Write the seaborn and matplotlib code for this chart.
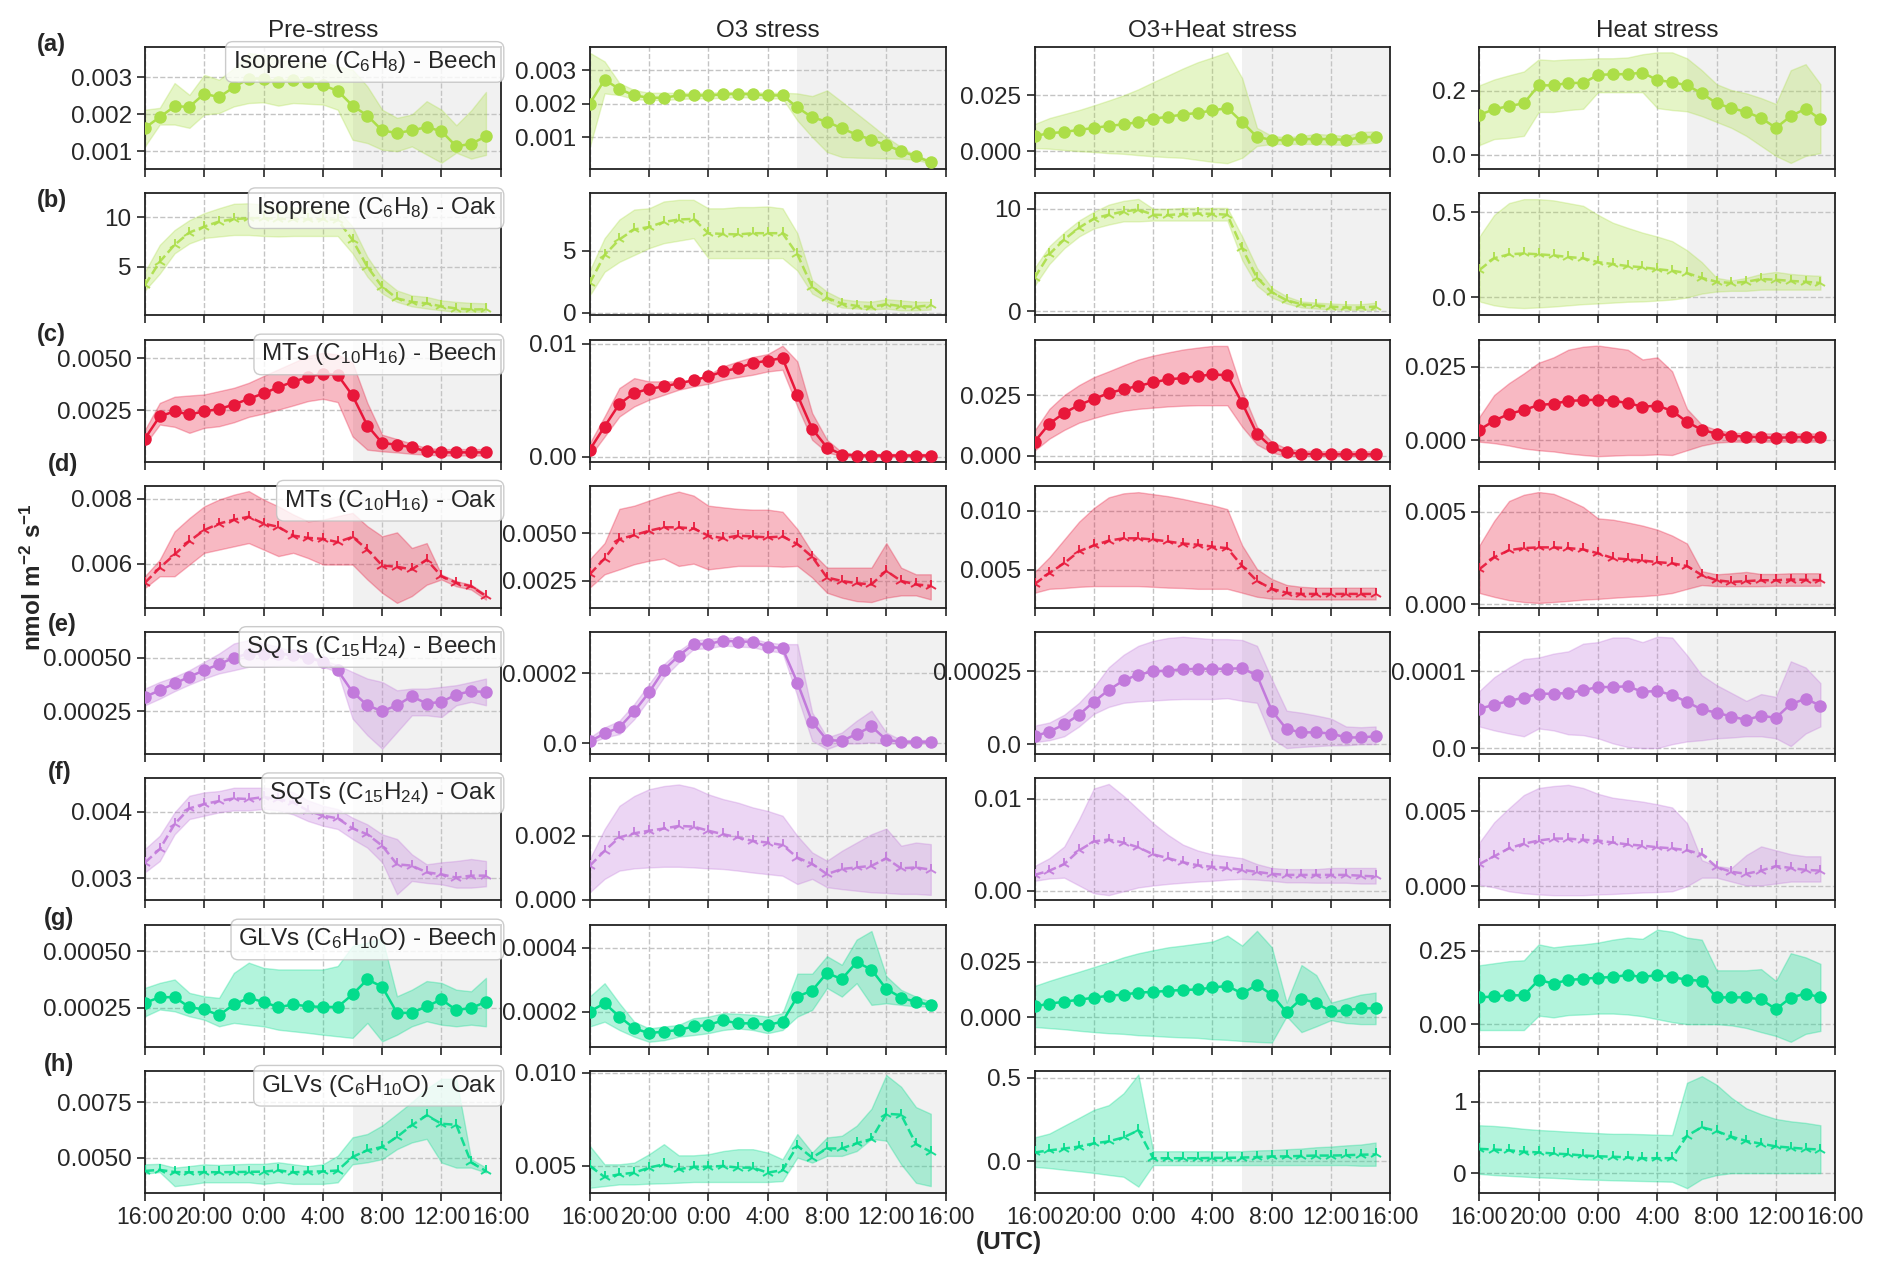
import numpy as np
import pandas as pd
import matplotlib.pyplot as plt
import seaborn as sns

# hours after 16:00 (hourly means, 16:00 -> 15:00)
hours = list(range(24))
xtick_pos = [0, 4, 8, 12, 16, 20, 24]
xtick_labels = ['16:00', '20:00', '0:00', '4:00', '8:00', '12:00', '16:00']
col_titles = ['Pre-stress', 'O3 stress', 'O3+Heat stress', 'Heat stress']
row_letters = ['(a)', '(b)', '(c)', '(d)', '(e)', '(f)', '(g)', '(h)']
row_names = ['Isoprene (C$_6$H$_8$) - Beech', 'Isoprene (C$_6$H$_8$) - Oak',
             'MTs (C$_{10}$H$_{16}$) - Beech', 'MTs (C$_{10}$H$_{16}$) - Oak',
             'SQTs (C$_{15}$H$_{24}$) - Beech', 'SQTs (C$_{15}$H$_{24}$) - Oak',
             'GLVs (C$_6$H$_{10}$O) - Beech', 'GLVs (C$_6$H$_{10}$O) - Oak']

# ---- (a) isoprene beech
a1_mean = [0.00163, 0.00192, 0.00221, 0.0022, 0.00255, 0.00246, 0.00273, 0.00296, 0.00296, 0.00287, 0.00292, 0.00288, 0.00278, 0.00263, 0.00223, 0.00196, 0.00156, 0.00149, 0.00156, 0.00165, 0.00154, 0.00113, 0.0012, 0.0014]
a1_hi = [0.00212, 0.00217, 0.00284, 0.00252, 0.00306, 0.00293, 0.00324, 0.00365, 0.0036, 0.00347, 0.00342, 0.00338, 0.00342, 0.00329, 0.0032, 0.00275, 0.00212, 0.0019, 0.00199, 0.00235, 0.00212, 0.0017, 0.0021, 0.0026]
a1_lo = [0.00113, 0.00172, 0.00172, 0.00163, 0.00199, 0.00203, 0.00221, 0.0023, 0.00232, 0.00223, 0.0023, 0.00228, 0.00226, 0.00212, 0.00131, 0.00122, 0.00104, 0.001, 0.00113, 0.00091, 0.00069, 0.00096, 0.0008, 0.0009]
a2_mean = [0.002, 0.00272, 0.00244, 0.00225, 0.00218, 0.00218, 0.00225, 0.00225, 0.00225, 0.00228, 0.0023, 0.00228, 0.00225, 0.00225, 0.00189, 0.00159, 0.00146, 0.00126, 0.00107, 0.00092, 0.00075, 0.00058, 0.00042, 0.00024]
a2_hi = [0.00353, 0.00327, 0.00262, 0.00241, 0.00233, 0.00233, 0.00233, 0.00233, 0.00233, 0.00235, 0.00236, 0.00235, 0.00233, 0.00233, 0.00231, 0.00223, 0.0024, 0.00206, 0.00171, 0.00136, 0.001, 0.0007, 0.00045, 0.0003]
a2_lo = [0.0007, 0.00231, 0.00226, 0.00214, 0.00211, 0.00211, 0.00214, 0.00216, 0.00216, 0.00218, 0.0022, 0.00218, 0.00216, 0.00216, 0.0015, 0.001, 0.00055, 0.0004, 0.00038, 0.00037, 0.00036, 0.00035, 0.00032, 0.0002]
a3_mean = [0.0068, 0.008, 0.0086, 0.0095, 0.0104, 0.0113, 0.012, 0.013, 0.0145, 0.0154, 0.0164, 0.0171, 0.0182, 0.0193, 0.013, 0.0064, 0.005, 0.005, 0.0054, 0.0054, 0.0054, 0.005, 0.0062, 0.0064]
a3_hi = [0.0121, 0.0148, 0.0166, 0.0184, 0.0205, 0.0227, 0.025, 0.0277, 0.0309, 0.0339, 0.037, 0.0398, 0.042, 0.0443, 0.0327, 0.0104, 0.0068, 0.0062, 0.0068, 0.0077, 0.0073, 0.0068, 0.0086, 0.0089]
a3_lo = [0.0014, 0.0011, 0.0005, 0.0, -0.0004, -0.0009, -0.0012, -0.0018, -0.0023, -0.0027, -0.003, -0.0039, -0.0048, -0.0054, -0.003, 0.0023, 0.0032, 0.0032, 0.0032, 0.0032, 0.0029, 0.0029, 0.0032, 0.0038]
a4_mean = [0.125, 0.1425, 0.1525, 0.161, 0.2175, 0.2175, 0.225, 0.225, 0.25, 0.2525, 0.2525, 0.2575, 0.234, 0.2275, 0.2175, 0.1925, 0.161, 0.146, 0.134, 0.115, 0.084, 0.121, 0.144, 0.111]
a4_hi = [0.2175, 0.236, 0.249, 0.261, 0.299, 0.296, 0.299, 0.30, 0.3025, 0.3025, 0.305, 0.315, 0.321, 0.321, 0.3025, 0.265, 0.221, 0.2025, 0.1925, 0.1775, 0.159, 0.265, 0.284, 0.221]
a4_lo = [0.03, 0.049, 0.0525, 0.059, 0.134, 0.134, 0.14, 0.144, 0.196, 0.196, 0.196, 0.196, 0.146, 0.14, 0.136, 0.121, 0.1025, 0.084, 0.059, 0.0275, -0.004, -0.026, -0.004, 0.005]

# ---- (b) isoprene oak
b1_mean = [3.14, 5.5, 7.2, 8.45, 9.05, 9.56, 9.8, 9.9, 9.9, 9.83, 9.8, 9.8, 9.8, 9.73, 7.7, 5.0, 2.97, 1.8, 1.45, 1.3, 1.0, 0.78, 0.68, 0.7]
b1_hi = [4.5, 7.2, 8.7, 9.7, 10.4, 10.9, 11.35, 11.4, 11.25, 11.15, 11.0, 10.9, 10.8, 10.75, 9.05, 6.0, 3.8, 2.6, 2.1, 1.95, 1.6, 1.45, 1.35, 1.3]
b1_lo = [2.6, 4.3, 6.35, 7.35, 7.9, 8.05, 8.2, 8.2, 8.1, 8.05, 8.1, 8.1, 8.1, 8.1, 6.35, 4.0, 2.3, 1.45, 1.0, 0.78, 0.6, 0.45, 0.45, 0.45]
b2_mean = [2.4, 4.65, 5.9, 6.7, 6.9, 7.3, 7.5, 7.55, 6.4, 6.34, 6.3, 6.4, 6.4, 6.4, 4.7, 2.1, 1.2, 0.75, 0.56, 0.48, 0.7, 0.54, 0.48, 0.62]
b2_hi = [3.4, 6.0, 7.5, 8.3, 8.4, 8.95, 9.08, 9.08, 8.4, 8.4, 8.5, 8.5, 8.55, 8.4, 6.4, 2.63, 1.7, 1.1, 0.95, 0.9, 1.1, 1.0, 0.9, 0.9]
b2_lo = [1.4, 3.3, 4.1, 4.65, 5.2, 5.6, 5.8, 6.0, 4.4, 4.4, 4.4, 4.4, 4.4, 4.4, 3.4, 1.55, 0.9, 0.43, 0.35, 0.27, 0.35, 0.2, 0.2, 0.27]
b3_mean = [3.27, 5.58, 7.0, 8.15, 9.04, 9.42, 9.73, 9.92, 9.42, 9.38, 9.5, 9.54, 9.5, 9.42, 6.15, 3.27, 1.85, 1.08, 0.69, 0.58, 0.46, 0.38, 0.38, 0.46]
b3_hi = [4.23, 6.35, 7.7, 8.85, 9.7, 10.4, 10.77, 10.96, 10.0, 10.0, 10.08, 10.08, 10.08, 10.08, 7.3, 4.23, 2.3, 1.46, 0.96, 0.85, 0.77, 0.69, 0.69, 0.85]
b3_lo = [2.5, 4.62, 6.15, 7.3, 8.08, 8.46, 8.77, 8.77, 8.85, 8.85, 8.85, 8.85, 8.85, 8.85, 5.0, 2.5, 1.35, 0.77, 0.38, 0.27, 0.19, 0.15, 0.15, 0.15]
b4_mean = [0.161, 0.23, 0.253, 0.258, 0.253, 0.247, 0.237, 0.23, 0.207, 0.196, 0.184, 0.177, 0.166, 0.157, 0.143, 0.115, 0.092, 0.085, 0.092, 0.108, 0.104, 0.097, 0.092, 0.085]
b4_hi = [0.357, 0.484, 0.553, 0.576, 0.576, 0.569, 0.553, 0.537, 0.484, 0.438, 0.408, 0.38, 0.357, 0.33, 0.277, 0.207, 0.115, 0.1, 0.115, 0.138, 0.15, 0.138, 0.131, 0.127]
b4_lo = [-0.023, -0.046, -0.058, -0.062, -0.058, -0.053, -0.046, -0.039, -0.035, -0.03, -0.025, -0.023, -0.018, -0.012, 0.0, 0.023, 0.035, 0.039, 0.039, 0.046, 0.046, 0.046, 0.046, 0.046]

# ---- (c) MTs beech
c1_mean = [0.00113, 0.00221, 0.00244, 0.0023, 0.00244, 0.00256, 0.00277, 0.00305, 0.00331, 0.00361, 0.00387, 0.0041, 0.00426, 0.0042, 0.00321, 0.00176, 0.00092, 0.00084, 0.00071, 0.00052, 0.00047, 0.00047, 0.00047, 0.00047]
c1_hi = [0.00156, 0.00285, 0.00315, 0.00321, 0.00326, 0.00342, 0.00358, 0.00382, 0.00415, 0.00447, 0.00479, 0.00511, 0.00527, 0.00519, 0.00479, 0.00285, 0.00132, 0.00111, 0.00089, 0.00068, 0.00063, 0.00063, 0.00063, 0.00063]
c1_lo = [0.00084, 0.00181, 0.0017, 0.00141, 0.00165, 0.00173, 0.00192, 0.00218, 0.00234, 0.00253, 0.00273, 0.00294, 0.00305, 0.00289, 0.00124, 0.0006, 0.00052, 0.00047, 0.0004, 0.00036, 0.00032, 0.00032, 0.00032, 0.00032]
c2_mean = [0.00059, 0.00266, 0.00467, 0.00562, 0.006, 0.00621, 0.00649, 0.00675, 0.0071, 0.00754, 0.00784, 0.00828, 0.00849, 0.00873, 0.00547, 0.00246, 0.0008, 0.00018, 0.00009, 0.00009, 0.00009, 0.00009, 0.00009, 0.00009]
c2_hi = [0.00118, 0.00355, 0.00607, 0.00695, 0.00666, 0.00666, 0.00666, 0.0068, 0.00725, 0.00799, 0.00843, 0.00882, 0.00908, 0.00982, 0.00843, 0.00385, 0.00148, 0.00038, 0.00024, 0.00024, 0.00024, 0.00024, 0.00024, 0.00024]
c2_lo = [0.0, 0.00177, 0.00355, 0.00444, 0.00503, 0.00547, 0.00592, 0.00621, 0.00645, 0.0068, 0.00704, 0.00725, 0.00754, 0.00769, 0.00444, 0.00148, 0.00036, 0.00006, 0.0, 0.0, 0.0, 0.0, 0.0, 0.0]
c3_mean = [0.0057, 0.0132, 0.0176, 0.0209, 0.0234, 0.0258, 0.0274, 0.0288, 0.0302, 0.0315, 0.032, 0.0328, 0.0335, 0.0332, 0.0217, 0.009, 0.0034, 0.0013, 0.0008, 0.0005, 0.0005, 0.0005, 0.0005, 0.0005]
c3_hi = [0.0103, 0.0193, 0.025, 0.0291, 0.0324, 0.0348, 0.0373, 0.0397, 0.0413, 0.0426, 0.0438, 0.0446, 0.0453, 0.0453, 0.0266, 0.0119, 0.0057, 0.0029, 0.0021, 0.0018, 0.0018, 0.0018, 0.0018, 0.0018]
c3_lo = [0.0021, 0.007, 0.0106, 0.0136, 0.0155, 0.0172, 0.0185, 0.0193, 0.0198, 0.0203, 0.0206, 0.0208, 0.0208, 0.0208, 0.0119, 0.0046, 0.0013, -0.0003, -0.0003, -0.0003, -0.0003, -0.0003, -0.0003, -0.0003]
c4_mean = [0.0036, 0.0067, 0.009, 0.0103, 0.012, 0.0124, 0.0134, 0.0136, 0.0138, 0.0134, 0.0127, 0.0114, 0.0118, 0.01, 0.0063, 0.0036, 0.0023, 0.0016, 0.0013, 0.0011, 0.0009, 0.0011, 0.0012, 0.0011]
c4_hi = [0.008, 0.0154, 0.0194, 0.0227, 0.0263, 0.0281, 0.0307, 0.0317, 0.0321, 0.0314, 0.0307, 0.0274, 0.0281, 0.0234, 0.0107, 0.0053, 0.0036, 0.0027, 0.0024, 0.0024, 0.0024, 0.0024, 0.0024, 0.0024]
c4_lo = [-0.0004, -0.0009, -0.0017, -0.0027, -0.0033, -0.0037, -0.0044, -0.0049, -0.0053, -0.0051, -0.0049, -0.0049, -0.0047, -0.0049, -0.0033, -0.0017, -0.0007, -0.0004, -0.0004, -0.0004, -0.0004, -0.0004, -0.0004, -0.0004]

# ---- (d) MTs oak
d1_mean = [0.00542, 0.00588, 0.00629, 0.0067, 0.00704, 0.00724, 0.00736, 0.00745, 0.00724, 0.00714, 0.00687, 0.0068, 0.00677, 0.00667, 0.00683, 0.00644, 0.00595, 0.00591, 0.00583, 0.00613, 0.00562, 0.00542, 0.00531, 0.00501]
d1_hi = [0.00562, 0.00613, 0.007, 0.00741, 0.00777, 0.00798, 0.00813, 0.00824, 0.00798, 0.00777, 0.00752, 0.00731, 0.00736, 0.00747, 0.00757, 0.00716, 0.00685, 0.00697, 0.00649, 0.00664, 0.00567, 0.00547, 0.00536, 0.00506]
d1_lo = [0.00526, 0.00562, 0.00562, 0.00598, 0.00634, 0.00644, 0.00654, 0.00664, 0.00644, 0.00624, 0.00634, 0.00618, 0.00598, 0.00598, 0.00598, 0.00552, 0.00511, 0.0048, 0.00501, 0.00536, 0.00552, 0.00531, 0.00521, 0.0049]
d2_mean = [0.00285, 0.00368, 0.0047, 0.00491, 0.00514, 0.00532, 0.00532, 0.00526, 0.00488, 0.00475, 0.00488, 0.00484, 0.00479, 0.00484, 0.00444, 0.00377, 0.00268, 0.0025, 0.00238, 0.00232, 0.00303, 0.0025, 0.00232, 0.00224]
d2_hi = [0.00364, 0.00449, 0.00629, 0.00646, 0.00673, 0.00699, 0.0072, 0.00699, 0.00646, 0.00637, 0.00629, 0.00625, 0.00625, 0.00614, 0.00523, 0.00399, 0.0032, 0.0032, 0.0032, 0.0032, 0.00449, 0.0032, 0.00285, 0.00285]
d2_lo = [0.00215, 0.00285, 0.00311, 0.00338, 0.00356, 0.00368, 0.00329, 0.00341, 0.00311, 0.0032, 0.00329, 0.00329, 0.00329, 0.00325, 0.00329, 0.00268, 0.00188, 0.00162, 0.00144, 0.00139, 0.00162, 0.00174, 0.00174, 0.00153]
d3_mean = [0.0038, 0.00473, 0.00557, 0.00657, 0.00707, 0.00747, 0.00767, 0.00767, 0.00757, 0.0074, 0.00723, 0.00713, 0.00697, 0.00683, 0.00533, 0.00407, 0.0034, 0.00307, 0.00297, 0.00297, 0.00297, 0.00297, 0.00297, 0.00297]
d3_hi = [0.0048, 0.00607, 0.00757, 0.00907, 0.01023, 0.01113, 0.01147, 0.01157, 0.0114, 0.01123, 0.011, 0.01073, 0.01047, 0.01013, 0.00707, 0.00507, 0.00423, 0.00373, 0.00357, 0.0035, 0.0035, 0.0035, 0.0035, 0.0035]
d3_lo = [0.00307, 0.0034, 0.00347, 0.00357, 0.00363, 0.00363, 0.00363, 0.00363, 0.00357, 0.0035, 0.00347, 0.0034, 0.0034, 0.0034, 0.00307, 0.00273, 0.00257, 0.00257, 0.0025, 0.0025, 0.0025, 0.0025, 0.0025, 0.0025]
d4_mean = [0.00189, 0.00253, 0.00292, 0.00303, 0.00307, 0.00307, 0.00303, 0.00296, 0.00275, 0.00249, 0.00242, 0.00236, 0.00227, 0.00221, 0.00206, 0.00157, 0.00129, 0.0012, 0.00124, 0.00129, 0.00129, 0.00133, 0.00131, 0.00129]
d4_hi = [0.00318, 0.00451, 0.00558, 0.00592, 0.00607, 0.00597, 0.00564, 0.00526, 0.00464, 0.00457, 0.00442, 0.00425, 0.00403, 0.00371, 0.00328, 0.00178, 0.00161, 0.00167, 0.00174, 0.00163, 0.00163, 0.00167, 0.00167, 0.00167]
d4_lo = [0.0006, 0.00039, 0.00021, 0.00011, 0.00006, 0.00011, 0.00017, 0.00024, 0.00028, 0.00034, 0.00039, 0.00043, 0.00049, 0.0006, 0.00082, 0.00103, 0.00097, 0.00097, 0.00097, 0.00097, 0.00099, 0.00099, 0.00099, 0.00099]

# ---- (e) SQTs beech
e1_mean = [0.000317, 0.000348, 0.00038, 0.000411, 0.000442, 0.00047, 0.0005, 0.00052, 0.00052, 0.00052, 0.000512, 0.0005, 0.000481, 0.000442, 0.00034, 0.000278, 0.00025, 0.000278, 0.00032, 0.000286, 0.000294, 0.000328, 0.000344, 0.00034]
e1_hi = [0.000356, 0.000387, 0.000411, 0.000442, 0.000481, 0.00052, 0.000567, 0.000583, 0.000567, 0.000552, 0.000528, 0.000505, 0.00049, 0.000466, 0.000434, 0.000403, 0.000387, 0.000348, 0.000356, 0.000356, 0.000364, 0.000372, 0.000387, 0.000403]
e1_lo = [0.000278, 0.000309, 0.000344, 0.000375, 0.000403, 0.000427, 0.000442, 0.000458, 0.000458, 0.000463, 0.000463, 0.000458, 0.000458, 0.000434, 0.000216, 0.000138, 0.000075, 0.000153, 0.000231, 0.000231, 0.000223, 0.000278, 0.000294, 0.000278]
e2_mean = [0.0000057, 0.0000284, 0.0000455, 0.000091, 0.000145, 0.000209, 0.000249, 0.000282, 0.000282, 0.000292, 0.000289, 0.000289, 0.000275, 0.00027, 0.000173, 0.0000616, 0.0000095, 0.0000076, 0.0000265, 0.0000483, 0.0000104, 0.0000047, 0.0000047, 0.0000047]
e2_hi = [0.000017, 0.0000455, 0.0000645, 0.000112, 0.000169, 0.000225, 0.000263, 0.000292, 0.000297, 0.000301, 0.000299, 0.000297, 0.000287, 0.000282, 0.000282, 0.000088, 0.000017, 0.000031, 0.0000645, 0.000093, 0.000031, 0.00001, 0.00001, 0.00001]
e2_lo = [0.0, 0.000017, 0.0000265, 0.000069, 0.000126, 0.000188, 0.00023, 0.000268, 0.00027, 0.000278, 0.000275, 0.000273, 0.000263, 0.000258, 0.000135, 0.0000076, -0.000016, 0.0, 0.0, 0.0000028, 0.0, 0.0, 0.0, 0.0]
e3_mean = [0.000027, 0.0000432, 0.0000676, 0.000101, 0.000146, 0.000186, 0.000219, 0.000239, 0.00025, 0.000253, 0.000257, 0.000259, 0.000259, 0.000259, 0.000261, 0.000236, 0.000115, 0.0000514, 0.0000405, 0.0000405, 0.0000365, 0.000023, 0.000023, 0.000027]
e3_hi = [0.0000635, 0.0000743, 0.000101, 0.000142, 0.000196, 0.000264, 0.000307, 0.000338, 0.000355, 0.000365, 0.000369, 0.000365, 0.000361, 0.000361, 0.000358, 0.000338, 0.000223, 0.000115, 0.000108, 0.0000986, 0.0000878, 0.0000608, 0.0000581, 0.0000608]
e3_lo = [0.0000068, 0.0000135, 0.000027, 0.0000608, 0.000104, 0.000128, 0.000142, 0.000147, 0.00015, 0.000153, 0.000155, 0.000155, 0.000155, 0.000158, 0.000149, 0.000142, 0.00002, -0.0000135, -0.0000095, -0.0000068, -0.000004, -0.000004, 0.0, 0.0]
e4_mean = [0.0000513, 0.0000564, 0.0000615, 0.0000656, 0.0000708, 0.0000708, 0.0000718, 0.0000754, 0.0000795, 0.0000795, 0.0000805, 0.0000733, 0.0000744, 0.0000692, 0.00006, 0.0000503, 0.0000462, 0.000041, 0.0000369, 0.0000421, 0.0000395, 0.0000574, 0.0000641, 0.0000554]
e4_hi = [0.0000744, 0.0000923, 0.000105, 0.000116, 0.000118, 0.000123, 0.000126, 0.000136, 0.000138, 0.000144, 0.000144, 0.000138, 0.000145, 0.000144, 0.000121, 0.0000949, 0.000082, 0.0000718, 0.0000615, 0.0000703, 0.0000667, 0.000113, 0.000105, 0.0000846]
e4_lo = [0.0000282, 0.0000231, 0.000019, 0.0000154, 0.0000256, 0.0000231, 0.0000179, 0.0000169, 0.0000128, 0.0000062, 0.0000015, 0.0, 0.0, 0.0000051, 0.0000087, 0.0000103, 0.0000128, 0.0000138, 0.0000154, 0.0000154, 0.0000128, 0.0000026, 0.000019, 0.0000282]

# ---- (f) SQTs oak
f1_mean = [0.003236, 0.003437, 0.003814, 0.00405, 0.004116, 0.00416, 0.0042, 0.00419, 0.00422, 0.00419, 0.00414, 0.004015, 0.00394, 0.0039, 0.00375, 0.00366, 0.00349, 0.00321, 0.00319, 0.00309, 0.00306, 0.00301, 0.00304, 0.00304]
f1_hi = [0.00344, 0.00364, 0.00399, 0.00424, 0.00429, 0.00431, 0.00436, 0.00436, 0.00436, 0.00434, 0.00429, 0.00417, 0.00409, 0.00404, 0.00391, 0.00381, 0.00366, 0.00359, 0.00336, 0.00321, 0.00324, 0.00326, 0.00329, 0.00326]
f1_lo = [0.00309, 0.00326, 0.00366, 0.00389, 0.00394, 0.00399, 0.00402, 0.00402, 0.00404, 0.00402, 0.00396, 0.00386, 0.00379, 0.00374, 0.00359, 0.00346, 0.00324, 0.00276, 0.00296, 0.00293, 0.00291, 0.00286, 0.00286, 0.00288]
f2_mean = [0.00106, 0.00153, 0.00195, 0.00208, 0.00216, 0.00223, 0.00231, 0.00229, 0.00216, 0.00205, 0.00195, 0.00184, 0.00179, 0.00171, 0.00132, 0.00112, 0.0008, 0.00096, 0.00101, 0.00106, 0.00129, 0.00098, 0.00101, 0.00094]
f2_hi = [0.00127, 0.00221, 0.00294, 0.00325, 0.00346, 0.00356, 0.00361, 0.00351, 0.0033, 0.00315, 0.00304, 0.00289, 0.00278, 0.00263, 0.002, 0.00148, 0.00122, 0.00153, 0.00179, 0.00205, 0.00223, 0.00169, 0.00179, 0.00174]
f2_lo = [0.00023, 0.00065, 0.00091, 0.00098, 0.00101, 0.00103, 0.00103, 0.00101, 0.00098, 0.00096, 0.00091, 0.00085, 0.0008, 0.00075, 0.00049, 0.00065, 0.00039, 0.00033, 0.00028, 0.00023, 0.00021, 0.00018, 0.00018, 0.00015]
f3_mean = [0.0017, 0.00216, 0.00288, 0.00436, 0.00534, 0.00555, 0.00521, 0.0047, 0.00394, 0.00352, 0.00309, 0.00275, 0.00258, 0.00246, 0.00225, 0.00203, 0.00182, 0.0017, 0.0017, 0.0017, 0.0017, 0.0017, 0.00161, 0.00153]
f3_hi = [0.00267, 0.00352, 0.00479, 0.00775, 0.0111, 0.0116, 0.0103, 0.00881, 0.00733, 0.00606, 0.005, 0.00436, 0.00394, 0.00373, 0.00352, 0.00288, 0.00246, 0.00233, 0.00233, 0.00233, 0.00246, 0.00246, 0.00246, 0.00246]
f3_lo = [0.00106, 0.00131, 0.0014, 0.00055, -0.0003, -0.0005, -0.00008, 0.00034, 0.00055, 0.00072, 0.00085, 0.00097, 0.00106, 0.00119, 0.00127, 0.00119, 0.00106, 0.00089, 0.00089, 0.00085, 0.00085, 0.00085, 0.00076, 0.00076]
f4_mean = [0.00148, 0.002, 0.00253, 0.00284, 0.00305, 0.00318, 0.00318, 0.0031, 0.00305, 0.00292, 0.00279, 0.00271, 0.0026, 0.00253, 0.0024, 0.00214, 0.00128, 0.00096, 0.00083, 0.00104, 0.00135, 0.00122, 0.00109, 0.00104]
f4_hi = [0.00292, 0.00427, 0.00521, 0.00609, 0.00656, 0.00669, 0.00677, 0.00656, 0.00617, 0.00591, 0.00578, 0.00565, 0.00547, 0.00526, 0.00422, 0.00174, 0.00135, 0.00122, 0.00208, 0.00266, 0.0024, 0.00214, 0.002, 0.002]
f4_lo = [0.0001, -0.00008, -0.00034, -0.00047, -0.00055, -0.0006, -0.0006, -0.0006, -0.00055, -0.00052, -0.00047, -0.00042, -0.00039, -0.00034, 0.0, 0.00057, 0.00057, 0.00031, 0.00005, 0.00005, 0.00018, 0.00031, 0.00031, 0.00031]

# ---- (g) GLVs beech
g1_mean = [0.000272, 0.000297, 0.000297, 0.000253, 0.000243, 0.000218, 0.000265, 0.000294, 0.000276, 0.000253, 0.000265, 0.000257, 0.000254, 0.000254, 0.000309, 0.000375, 0.000343, 0.000228, 0.000228, 0.000257, 0.000287, 0.00024, 0.00025, 0.000276]
g1_hi = [0.000338, 0.00036, 0.000375, 0.000316, 0.000301, 0.000294, 0.000404, 0.000449, 0.000426, 0.000419, 0.000419, 0.000419, 0.000419, 0.000434, 0.000522, 0.000537, 0.000559, 0.000301, 0.00033, 0.000368, 0.00036, 0.00033, 0.000323, 0.000382]
g1_lo = [0.000213, 0.000243, 0.000235, 0.000213, 0.000198, 0.000169, 0.000184, 0.000176, 0.000169, 0.000154, 0.000147, 0.00014, 0.000132, 0.000125, 0.000118, 0.000184, 0.000103, 0.000132, 0.000169, 0.000191, 0.000176, 0.000169, 0.000176, 0.000169]
g2_mean = [0.0002, 0.000226, 0.000184, 0.000147, 0.000132, 0.000137, 0.000142, 0.000153, 0.000158, 0.000172, 0.000163, 0.000163, 0.000158, 0.000168, 0.000247, 0.000266, 0.000321, 0.000302, 0.000355, 0.000332, 0.000271, 0.000244, 0.00023, 0.000221]
g2_hi = [0.000247, 0.000289, 0.000226, 0.000168, 0.000147, 0.000153, 0.000158, 0.000179, 0.000184, 0.000195, 0.000193, 0.00019, 0.000184, 0.000195, 0.000319, 0.000319, 0.000374, 0.000347, 0.000426, 0.000453, 0.000311, 0.000268, 0.000247, 0.000231]
g2_lo = [0.000153, 0.000168, 0.000142, 0.000121, 0.000105, 0.00011, 0.000121, 0.000126, 0.000132, 0.000142, 0.000147, 0.000142, 0.000132, 0.000142, 0.000184, 0.000205, 0.000274, 0.000247, 0.000289, 0.000221, 0.000226, 0.000221, 0.000216, 0.000216]
g3_mean = [0.005, 0.0062, 0.0071, 0.008, 0.0089, 0.0098, 0.0103, 0.0112, 0.0115, 0.012, 0.0124, 0.0126, 0.0135, 0.0142, 0.0108, 0.0147, 0.0103, 0.0023, 0.0085, 0.0064, 0.0027, 0.0032, 0.0041, 0.0041]
g3_hi = [0.0142, 0.0165, 0.0186, 0.0206, 0.0227, 0.0248, 0.0271, 0.0289, 0.0303, 0.0316, 0.0324, 0.0333, 0.0342, 0.0369, 0.0324, 0.039, 0.0316, 0.0067, 0.0236, 0.0191, 0.0067, 0.0085, 0.0103, 0.0112]
g3_lo = [-0.0043, -0.0048, -0.0053, -0.006, -0.0066, -0.0071, -0.0074, -0.008, -0.0083, -0.0087, -0.009, -0.0092, -0.0098, -0.0101, -0.0106, -0.011, -0.0113, 0.0005, -0.0066, -0.004, -0.0012, -0.0025, -0.003, -0.003]
g4_mean = [0.091, 0.094, 0.098, 0.098, 0.15, 0.138, 0.15, 0.154, 0.158, 0.16, 0.167, 0.16, 0.167, 0.16, 0.151, 0.147, 0.091, 0.091, 0.091, 0.084, 0.051, 0.09, 0.104, 0.091]
g4_hi = [0.2, 0.207, 0.214, 0.217, 0.271, 0.261, 0.267, 0.271, 0.277, 0.287, 0.294, 0.29, 0.321, 0.314, 0.294, 0.287, 0.183, 0.183, 0.183, 0.187, 0.147, 0.241, 0.227, 0.205]
g4_lo = [-0.02, -0.02, -0.02, -0.02, 0.029, 0.023, 0.031, 0.033, 0.036, 0.036, 0.033, 0.027, 0.017, 0.007, 0.0, 0.0, 0.0, -0.004, -0.013, -0.027, -0.04, -0.06, -0.033, -0.023]

# ---- (h) GLVs oak
h1_mean = [0.00441, 0.00446, 0.00436, 0.00435, 0.00436, 0.00435, 0.00436, 0.00437, 0.00438, 0.00444, 0.00435, 0.00438, 0.00439, 0.00443, 0.00504, 0.00534, 0.00549, 0.00594, 0.00646, 0.0069, 0.00653, 0.00648, 0.00479, 0.00441]
h1_hi = [0.00471, 0.00473, 0.00456, 0.00463, 0.00471, 0.00468, 0.00471, 0.00473, 0.00473, 0.0048, 0.00471, 0.00463, 0.00471, 0.00509, 0.00592, 0.00607, 0.00645, 0.00697, 0.0075, 0.0081, 0.00855, 0.00855, 0.00494, 0.00456]
h1_lo = [0.00429, 0.00436, 0.00373, 0.0038, 0.0039, 0.0039, 0.0039, 0.0039, 0.00383, 0.0039, 0.00383, 0.00383, 0.00383, 0.0039, 0.00471, 0.0048, 0.00494, 0.00539, 0.00569, 0.00585, 0.00479, 0.00456, 0.00456, 0.00434]
h2_mean = [0.005, 0.00441, 0.00455, 0.00464, 0.00491, 0.00509, 0.00482, 0.00496, 0.00496, 0.005, 0.00491, 0.00491, 0.00464, 0.00478, 0.00608, 0.00545, 0.00594, 0.00594, 0.00622, 0.00645, 0.0078, 0.00775, 0.00618, 0.00576]
h2_hi = [0.00608, 0.00509, 0.00509, 0.00518, 0.00563, 0.00617, 0.00557, 0.00557, 0.00563, 0.0058, 0.0059, 0.0059, 0.00572, 0.00536, 0.00671, 0.00572, 0.00653, 0.00662, 0.00716, 0.00807, 0.00988, 0.00925, 0.00816, 0.0078]
h2_lo = [0.00383, 0.00392, 0.00401, 0.00401, 0.00405, 0.00407, 0.0041, 0.00414, 0.00414, 0.00414, 0.00414, 0.00414, 0.00414, 0.00419, 0.00545, 0.00518, 0.00554, 0.00554, 0.0058, 0.00645, 0.00636, 0.00509, 0.0041, 0.00392]
h3_mean = [0.052, 0.064, 0.075, 0.087, 0.106, 0.118, 0.142, 0.184, 0.017, 0.017, 0.017, 0.017, 0.019, 0.019, 0.021, 0.024, 0.028, 0.028, 0.031, 0.033, 0.033, 0.035, 0.038, 0.04]
h3_hi = [0.142, 0.165, 0.212, 0.259, 0.307, 0.335, 0.406, 0.519, 0.059, 0.059, 0.059, 0.059, 0.059, 0.059, 0.059, 0.064, 0.066, 0.071, 0.075, 0.083, 0.087, 0.094, 0.099, 0.111]
h3_lo = [-0.035, -0.042, -0.052, -0.061, -0.071, -0.083, -0.094, -0.153, -0.024, -0.024, -0.024, -0.024, -0.024, -0.024, -0.024, -0.024, -0.024, -0.024, -0.024, -0.024, -0.024, -0.024, -0.028, -0.028]
h4_mean = [0.34, 0.33, 0.32, 0.30, 0.29, 0.275, 0.264, 0.247, 0.236, 0.23, 0.22, 0.209, 0.209, 0.209, 0.522, 0.643, 0.588, 0.511, 0.45, 0.412, 0.374, 0.357, 0.34, 0.33]
h4_hi = [0.67, 0.66, 0.643, 0.62, 0.604, 0.593, 0.58, 0.57, 0.56, 0.55, 0.55, 0.545, 0.538, 0.533, 1.264, 1.357, 1.236, 1.055, 0.907, 0.824, 0.758, 0.725, 0.703, 0.67]
h4_lo = [-0.01, -0.027, -0.038, -0.049, -0.06, -0.066, -0.077, -0.088, -0.093, -0.1, -0.105, -0.11, -0.115, -0.12, -0.21, -0.082, -0.027, 0.0, 0.0, 0.0, 0.0, 0.0, 0.0, 0.0]

# y ranges
ylims = [
    [(0.00052, 0.00381), (0.00004, 0.0037), (-0.008, 0.0466), (-0.045, 0.3375)],
    [(0.1, 12.4), (-0.19, 9.6), (-0.38, 11.5), (-0.104, 0.61)],
    [(0.00003, 0.0059), (-0.00044, 0.01036), (-0.00245, 0.0479), (-0.0071, 0.0341)],
    [(0.00465, 0.0084), (0.00109, 0.0075), (0.0018, 0.0121), (-0.0002, 0.0064)],
    [(0.00005, 0.00062), (-0.00003, 0.000316), (-0.000034, 0.000385), (-0.0000077, 0.000151)],
    [(0.00267, 0.0045), (-0.00002, 0.0038), (-0.00106, 0.0122), (-0.00094, 0.0072)],
    [(0.00008, 0.000616), (0.00009, 0.000473), (-0.0131, 0.0418), (-0.076, 0.338)],
    [(0.00343, 0.0089), (0.00356, 0.0101), (-0.19, 0.54), (-0.275, 1.43)],
]
# y tick labels as printed in the figure
ytick_labels = [
    [['0.001', '0.002', '0.003'], ['0.001', '0.002', '0.003'], ['0.000', '0.025'], ['0.0', '0.2']],
    [['5', '10'], ['0', '5'], ['0', '10'], ['0.0', '0.5']],
    [['0.0025', '0.0050'], ['0.00', '0.01'], ['0.000', '0.025'], ['0.000', '0.025']],
    [['0.006', '0.008'], ['0.0025', '0.0050'], ['0.005', '0.010'], ['0.000', '0.005']],
    [['0.00025', '0.00050'], ['0.0', '0.0002'], ['0.0', '0.00025'], ['0.0', '0.0001']],
    [['0.003', '0.004'], ['0.000', '0.002'], ['0.00', '0.01'], ['0.000', '0.005']],
    [['0.00025', '0.00050'], ['0.0002', '0.0004'], ['0.000', '0.025'], ['0.00', '0.25']],
    [['0.0050', '0.0075'], ['0.005', '0.010'], ['0.0', '0.5'], ['0', '1']],
]

panels = [
    [(a1_mean, a1_lo, a1_hi), (a2_mean, a2_lo, a2_hi), (a3_mean, a3_lo, a3_hi), (a4_mean, a4_lo, a4_hi)],
    [(b1_mean, b1_lo, b1_hi), (b2_mean, b2_lo, b2_hi), (b3_mean, b3_lo, b3_hi), (b4_mean, b4_lo, b4_hi)],
    [(c1_mean, c1_lo, c1_hi), (c2_mean, c2_lo, c2_hi), (c3_mean, c3_lo, c3_hi), (c4_mean, c4_lo, c4_hi)],
    [(d1_mean, d1_lo, d1_hi), (d2_mean, d2_lo, d2_hi), (d3_mean, d3_lo, d3_hi), (d4_mean, d4_lo, d4_hi)],
    [(e1_mean, e1_lo, e1_hi), (e2_mean, e2_lo, e2_hi), (e3_mean, e3_lo, e3_hi), (e4_mean, e4_lo, e4_hi)],
    [(f1_mean, f1_lo, f1_hi), (f2_mean, f2_lo, f2_hi), (f3_mean, f3_lo, f3_hi), (f4_mean, f4_lo, f4_hi)],
    [(g1_mean, g1_lo, g1_hi), (g2_mean, g2_lo, g2_hi), (g3_mean, g3_lo, g3_hi), (g4_mean, g4_lo, g4_hi)],
    [(h1_mean, h1_lo, h1_hi), (h2_mean, h2_lo, h2_hi), (h3_mean, h3_lo, h3_hi), (h4_mean, h4_lo, h4_hi)],
]

colors = ['#acde48', '#e8173a', '#c27adb', '#03dc8c']  # isoprene, MTs, SQTs, GLVs

sns.set_style("ticks")
plt.rcParams['font.family'] = ['Liberation Sans', 'DejaVu Sans']
plt.rcParams['mathtext.default'] = 'regular'

fig, axes = plt.subplots(8, 4, figsize=(18.92, 12.73), dpi=100, sharex=True)
fig.subplots_adjust(left=0.0766, right=0.970, top=0.963, bottom=0.063, wspace=0.25, hspace=0.2)

for r in range(8):
    col = colors[r // 2]
    beech = (r % 2 == 0)
    for c in range(4):
        ax = axes[r, c]
        mean, lo, hi = panels[r][c]
        df = pd.DataFrame({'hour': hours, 'flux': mean})

        ax.axvspan(14, 24, color='#d3d3d3', alpha=0.3, lw=0, zorder=0)
        ax.fill_between(hours, lo, hi, color=col, alpha=0.3, lw=1, zorder=1)
        if beech:
            sns.lineplot(data=df, x='hour', y='flux', ax=ax, color=col, marker='o',
                         markersize=9, mec=col, mew=0, lw=1.8, errorbar=None, zorder=3)
        else:
            sns.lineplot(data=df, x='hour', y='flux', ax=ax, color=col, marker='2',
                         markersize=8.5, mec=col, mew=1.4, lw=1.8, linestyle='--',
                         alpha=0.9, errorbar=None, zorder=3)

        labs = ytick_labels[r][c]
        ax.set_xlim(0, 24)
        ax.set_ylim(*ylims[r][c])
        ax.set_yticks([float(t) for t in labs])
        ax.set_yticklabels(labs)
        ax.set_xticks(xtick_pos)
        ax.set_xticklabels(xtick_labels)
        ax.set_xlabel('')
        ax.set_ylabel('')
        ax.grid(True, linestyle='--', color='#c4c4c4', linewidth=1.0)
        ax.tick_params(axis='y', labelsize=17.5, length=6, width=1.2)
        ax.tick_params(axis='x', labelsize=16.5, length=6, width=1.2)
        for s in ax.spines.values():
            s.set_linewidth(1.3)
            s.set_color('#222222')

        if r == 0:
            ax.set_title(col_titles[c], fontsize=17.5, pad=7)
        if c == 0:
            ax.text(0.988, 0.985, row_names[r], transform=ax.transAxes, ha='right', va='top',
                    fontsize=17.5, zorder=5,
                    bbox=dict(boxstyle='round,pad=0.3', fc='white', ec='0.75', alpha=0.8))

# panel letters
letter_x = [37, 37, 37, 48, 48, 48, 44, 44]
letter_y = [45, 200, 335, 465, 625, 773, 918, 1065]
for lab, lx, ly in zip(row_letters, letter_x, letter_y):
    fig.text(lx / 1892, 1 - ly / 1273, lab, fontsize=17, fontweight='bold', ha='left', va='center')

fig.text(0.0175, 0.547, 'nmol m$^{-2}$ s$^{-1}$', rotation=90, fontsize=17.5,
         fontweight='bold', ha='center', va='center')
fig.text(0.533, 0.024, '(UTC)', fontsize=17.5, fontweight='bold', ha='center', va='center')

fig.savefig('out.png', dpi=100)
